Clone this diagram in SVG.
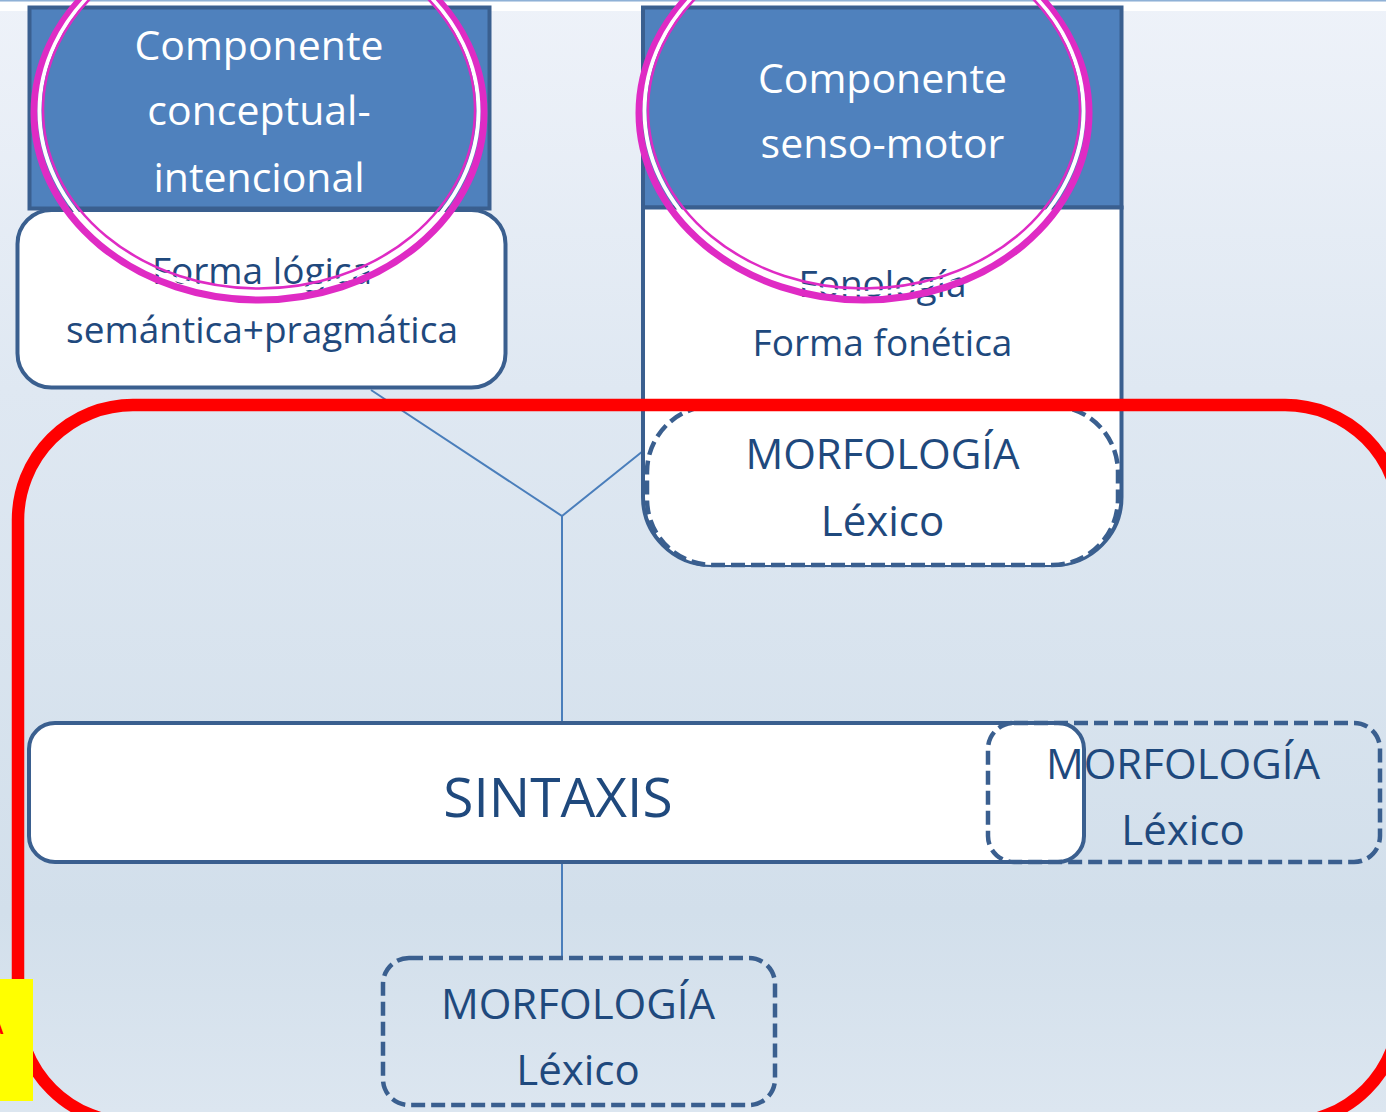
<svg xmlns="http://www.w3.org/2000/svg" width="1386" height="1112" viewBox="0 0 1386 1112">
<defs>
<linearGradient id="bg" x1="0" y1="0" x2="0" y2="1">
<stop offset="0" stop-color="#eef2f9"/>
<stop offset="0.35" stop-color="#dfe8f2"/>
<stop offset="0.82" stop-color="#d2dfeb"/>
<stop offset="1" stop-color="#dce6f0"/>
</linearGradient>
<style>
.hdr{fill:#4f81bd;stroke:#3a5f8f;stroke-width:4}
.box{fill:#ffffff;stroke:#3a5f8f;stroke-width:4}
.dash{stroke:#3a5f8f;stroke-width:4.5;stroke-dasharray:14 6}
.wt{fill:#ffffff;font-family:"Open Sans","DejaVu Sans",sans-serif;font-size:41px;text-anchor:middle}
.dt{fill:#1f497d;font-family:"Open Sans","DejaVu Sans",sans-serif;text-anchor:middle}
.s37{font-size:37px}
.s42{font-size:42px}
.s55{font-size:55px}
.conn{stroke:#4a7ebb;stroke-width:2;fill:none}
.mag{fill:none;stroke:#df2bc4}
</style>
</defs>
<rect x="0" y="0" width="1386" height="1112" fill="url(#bg)"/>
<rect x="0" y="1.5" width="1386" height="9.5" fill="#ffffff"/>
<rect x="0" y="0" width="1386" height="1.5" fill="#8fb1d6"/>

<g id="connectors">
<polyline class="conn" points="371,390 562,516 643,451"/>
<line class="conn" x1="562" y1="516" x2="562" y2="723"/>
<line class="conn" x1="562" y1="862" x2="562" y2="958"/>
</g>

<g id="node-conceptual">
<rect class="hdr" x="29.5" y="7.5" width="460" height="201"/>
<text class="wt" x="259" y="60">Componente</text>
<text class="wt" x="259" y="125">conceptual-</text>
<text class="wt" x="259" y="192">intencional</text>
</g>

<g id="node-forma-logica">
<rect class="box" x="17.5" y="210" width="488" height="177.5" rx="34"/>
<text class="dt s37" x="262" y="284">Forma lógica</text>
<text class="dt s37" x="262" y="343">semántica+pragmática</text>
</g>

<g id="node-senso-motor">
<rect class="hdr" x="643" y="7.5" width="478.5" height="200"/>
<text class="wt" x="882.5" y="93">Componente</text>
<text class="wt" x="882.5" y="158">senso-motor</text>
</g>

<g id="node-fonologia">
<path class="box" d="M643,207.5 V497 A68,68 0 0 0 711,565 H1053.5 A68,68 0 0 0 1121.5,497 V207.5 Z"/>
<text class="dt s37" x="882.5" y="297">Fonología</text>
<text class="dt s37" x="882.5" y="356">Forma fonética</text>
</g>

<g id="node-morfologia-1">
<rect class="dash" fill="#ffffff" x="647" y="406" width="471" height="159" rx="66"/>
<text class="dt s42" x="882.5" y="469">MORFOLOGÍA</text>
<text class="dt s42" x="882.5" y="536">Léxico</text>
</g>

<g id="node-sintaxis">
<rect class="box" x="29" y="723" width="1055" height="139" rx="26"/>
<text class="dt s55" x="558" y="817">SINTAXIS</text>
</g>

<g id="node-morfologia-2">
<rect class="dash" fill="none" x="988" y="723" width="392" height="139" rx="26"/>
<text class="dt s42" x="1183" y="779">MORFOLOGÍA</text>
<text class="dt s42" x="1183" y="845">Léxico</text>
</g>

<g id="node-morfologia-3">
<rect class="dash" fill="none" x="383" y="958" width="392" height="147" rx="26"/>
<text class="dt s42" x="578" y="1019">MORFOLOGÍA</text>
<text class="dt s42" x="578" y="1085">Léxico</text>
</g>

<g id="highlight-red">
<rect x="18" y="405" width="1382" height="718" rx="115" fill="none" stroke="#ff0000" stroke-width="12.5"/>
</g>

<g id="highlight-circles">
<ellipse class="mag" cx="259" cy="113" rx="225" ry="187" stroke-width="7"/>
<ellipse cx="259" cy="111" rx="219.5" ry="182" fill="none" stroke="#ffffff" stroke-width="4"/>
<ellipse class="mag" cx="259" cy="110" rx="216" ry="178.5" stroke-width="2.5"/>
<ellipse class="mag" cx="864" cy="113" rx="225" ry="187" stroke-width="7"/>
<ellipse cx="864" cy="111" rx="219.5" ry="182" fill="none" stroke="#ffffff" stroke-width="4"/>
<ellipse class="mag" cx="864" cy="110" rx="216" ry="178.5" stroke-width="2.5"/>
</g>

<g id="label-yellow">
<rect x="0" y="979" width="33" height="122" fill="#ffff00"/>
<text x="4" y="1034" fill="#ff0000" font-family="Liberation Sans, Arial, sans-serif" font-weight="bold" font-size="20" text-anchor="end">A</text>
</g>
</svg>
